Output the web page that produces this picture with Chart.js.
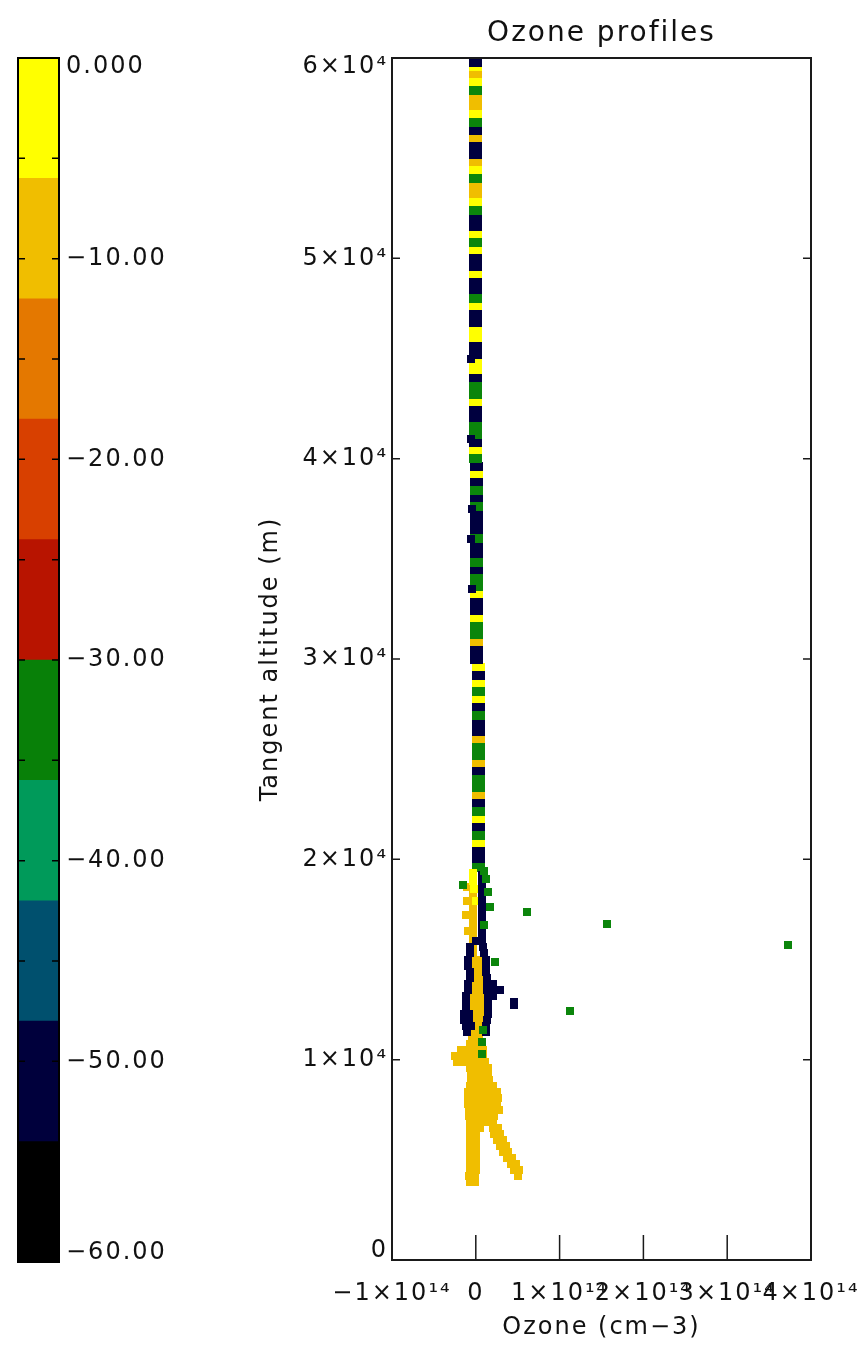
<!DOCTYPE html>
<html>
<head>
<meta charset="utf-8">
<title>Ozone profiles</title>
<script src="https://cdn.jsdelivr.net/npm/chart.js@4.4.1/dist/chart.umd.min.js"></script>
<style>
  body { margin: 0; background: #ffffff; }
  #wrap { position: relative; width: 866px; height: 1346px; }
  #cbar { position: absolute; left: 0; top: 0; }
  #ozone { position: absolute; left: 250px; top: 0; }
</style>
</head>
<body>
<div id="wrap">
  <canvas id="cbar" width="250" height="1346"></canvas>
  <canvas id="ozone" width="616" height="1346"></canvas>
</div>
<script>
(function () {

// -------------------------------------------------------------------------------------------------------
// data

// colour bar: band edges and band colours, bottom to top
var cbEdges = [-60, -54, -48, -42, -36, -30, -24, -18, -12, -6, 0];
var cbColors = ['#000000', '#00003c', '#00506e', '#009a5a', '#088008',
                '#b81400', '#d84000', '#e47800', '#f0be00', '#ffff00'];
var cbTickLabels = ['\u221260.00', '\u221250.00', '\u221240.00', '\u221230.00', '\u221220.00', '\u221210.00', '0.000'];

var xTickLabels = ['\u22121\u00d710\u00b9\u2074', '0', '1\u00d710\u00b9\u2074', '2\u00d710\u00b9\u2074', '3\u00d710\u00b9\u2074', '4\u00d710\u00b9\u2074'];
var yTickLabels = ['0', '1\u00d710\u2074', '2\u00d710\u2074', '3\u00d710\u2074', '4\u00d710\u2074', '5\u00d710\u2074', '6\u00d710\u2074'];

// points: [ozone in 1e14 cm-3, tangent altitude in m]
// upper profile (narrow column)
var colNavy = [[0,59800],[0,56400],[0,55600],[0,55200],[0,52000],[0,51600],[0,50000],[0,49600],[0,48800],[0,48400],
  [0,47200],[0,46800],[0,45600],[0,45200],[0,44000],[0,42400],[0,42000],[0,40800],
  [0.01,39600],[0.01,38800],[0.01,38000],[0.01,37200],[0.01,36800],[0.01,36400],[0.01,35600],[0.01,35200],
  [0.01,34400],[0.01,32800],[0.01,32400],[0.01,30400],[0.01,30000],
  [0.03,29200],[0.03,27600],[0.03,26800],[0.03,26400],[0.03,24400],[0.03,22800],[0.03,21600],[0.03,20400],[0.03,20000]];
var colYellow = [[0,59600],[0,58800],[0,57200],[0,54400],[0,52800],[0,51200],[0,50400],[0,49200],[0,47600],
  [0,46400],[0,46000],[0,44800],[0,44400],[0,42800],[0,40400],
  [0.01,39200],[0.01,33200],[0.01,32000],[0.03,29600],[0.03,28800],[0.03,28000],[0.03,22000],[0.03,20800]];
var colGold = [[0,59200],[0,58000],[0,57600],[0,56000],[0,54800],[0,53600],[0,53200],
  [0.01,30800],[0.03,26000],[0.03,24800],[0.03,23200]];
var colGreen = [[0,58400],[0,56800],[0,54000],[0,52400],[0,50800],[0,48000],[0,43600],[0,43200],[0,41600],[0,41200],[0,40000],
  [0.01,38400],[0.01,37600],[0.01,36000],[0.01,34800],[0.01,34000],[0.01,33600],[0.01,31600],[0.01,31200],
  [0.03,28400],[0.03,27200],[0.03,25600],[0.03,25200],[0.03,24000],[0.03,23600],[0.03,22400],[0.03,21200],[0.03,19600]];

// lower profile and scattered points
var lowGold = [
  [-0.03,19200],[-0.03,18900],[-0.03,18600],[-0.03,18300],[-0.03,18000],[-0.03,17700],[-0.03,17400],
  [-0.03,17100],[-0.03,16800],[-0.03,16500],[-0.03,16200],[-0.03,15900],[-0.03,15600],[-0.03,15300],
  [-0.1,18600],[-0.1,17900],[-0.12,17200],[-0.09,16400],
  [-0.02,15000],[0.05,15000],[-0.02,14700],[0.05,14700],[-0.02,14400],[0.05,14400],[-0.02,14100],[0.05,14100],
  [-0.02,13800],[0.05,13800],[-0.02,13500],[0.05,13500],[-0.02,13200],[0.05,13200],[-0.02,12900],[0.05,12900],
  [-0.02,12600],[0.05,12600],[-0.02,12300],[0.05,12300],[-0.02,12000],[0.05,12000],[-0.02,11700],[0.05,11700],
  [-0.02,11400],[0.05,11400],
  [-0.04,11100],[0.04,11100],
  [-0.07,10800],[0,10800],[0.07,10800],
  [-0.18,10500],[-0.11,10500],[-0.04,10500],[0.03,10500],[0.08,10500],
  [-0.25,10200],[-0.18,10200],[-0.11,10200],[-0.04,10200],[0.03,10200],[0.08,10200],
  [-0.22,9900],[-0.15,9900],[-0.07,9900],[0,9900],[0.07,9900],[0.11,9900],
  [-0.07,9600],[0,9600],[0.07,9600],[0.14,9600],
  [-0.06,9300],[0.01,9300],[0.08,9300],[0.15,9300],
  [-0.06,9000],[0.01,9000],[0.08,9000],[0.16,9000],
  [-0.07,8700],[0,8700],[0.07,8700],[0.14,8700],[0.21,8700],
  [-0.09,8400],[-0.02,8400],[0.05,8400],[0.12,8400],[0.19,8400],[0.25,8400],
  [-0.09,8100],[-0.02,8100],[0.05,8100],[0.12,8100],[0.19,8100],[0.26,8100],
  [-0.09,7800],[-0.02,7800],[0.05,7800],[0.12,7800],[0.19,7800],[0.25,7800],
  [-0.08,7500],[-0.01,7500],[0.06,7500],[0.13,7500],[0.2,7500],[0.28,7500],
  [-0.08,7200],[-0.01,7200],[0.06,7200],[0.13,7200],[0.22,7200],
  [-0.07,6900],[0,6900],[0.07,6900],[0.14,6900],[0.2,6900],
  [-0.07,6600],[0,6600],[0.05,6600],[0.2,6600],[0.27,6600],
  [-0.07,6300],[0,6300],[0.22,6300],[0.29,6300],
  [-0.07,6000],[0,6000],[0.25,6000],[0.32,6000],
  [-0.07,5700],[0,5700],[0.29,5700],[0.36,5700],
  [-0.07,5400],[0,5400],[0.33,5400],[0.39,5400],
  [-0.07,5100],[0,5100],[0.37,5100],[0.43,5100],
  [-0.07,4800],[0,4800],[0.42,4800],[0.48,4800],
  [-0.07,4500],[0,4500],[0.46,4500],[0.52,4500],
  [-0.08,4200],[-0.01,4200],[0.5,4200],
  [-0.07,3900],[-0.01,3900]];
var lowYellow = [[-0.03,19300],[-0.03,18900],[-0.02,18500],[0.0,17900]];
var lowNavy = [
  [-0.06,45000],[-0.06,41000],[-0.05,37500],[-0.06,36000],[-0.05,33500],
  [0.07,19200],[0.07,18900],[0.07,18600],[0.07,18300],[0.07,18000],[0.07,17700],[0.07,17400],
  [0.07,17100],[0.07,16800],[0.07,16500],[0.07,16200],
  [0.0,15900],[0.07,15900],[-0.07,15600],[0.08,15600],[-0.07,15300],[0.1,15300],
  [-0.09,15000],[0.12,15000],[-0.09,14700],[0.12,14700],[-0.07,14400],[0.12,14400],[-0.07,14100],[0.13,14100],
  [-0.09,13800],[0.13,13800],[0.2,13800],
  [-0.09,13500],[0.13,13500],[0.22,13500],[0.29,13500],
  [-0.12,13200],[0.14,13200],[0.2,13200],
  [-0.12,12900],[0.14,12900],[0.45,12900],[0.45,12750],
  [-0.12,12600],[0.14,12600],
  [-0.14,12300],[-0.08,12300],[0.14,12300],
  [-0.14,12000],[-0.08,12000],[0.13,12000],
  [-0.12,11700],[-0.06,11700],[0.12,11700],
  [-0.1,11400],[0.12,11400]];
var lowGreen = [
  [0.1,19400],[0.12,19000],[0.14,18350],[0.17,17600],[0.1,16700],
  [-0.155,18700],[0.61,17350],[1.57,16750],[3.72,15700],[0.23,14900],[1.12,12450],
  [0.08,11500],[0.07,10900],[0.07,10300]];

var navyColor = '#00003f';
var greenColor = '#0b850b';
var goldColor = '#f0be00';
var yellowColor = '#ffff00';

var FONT = 'DejaVu Sans';
var INK = '#111111';

// -------------------------------------------------------------------------------------------------------

function pts(arr) {
    return arr.map(function (p) { return { x: p[0] * 1e14, y: p[1] }; });
}

// small filled block used as point style
function swatch(color, w, h) {
    var c = document.createElement('canvas');
    c.width = w; c.height = h;
    var g = c.getContext('2d');
    g.fillStyle = color;
    g.fillRect(0, 0, w, h);
    return c;
}

function ds(label, arr, color, w, h) {
    return {
        label: label,
        data: pts(arr),
        pointStyle: swatch(color, w, h),
        pointRadius: 4,
        borderWidth: 0,
        showLine: false
    };
}

// box round the plot area plus inward ticks
var framePlugin = {
    id: 'frame',
    afterDatasetsDraw: function (chart, args, o) {
        var a = chart.chartArea, ctx = chart.ctx;
        ctx.save();
        ctx.strokeStyle = o.color;
        ctx.lineWidth = 1.5;
        ctx.beginPath();
        var ys = chart.scales.y;
        ys.ticks.forEach(function (t) {
            var py = ys.getPixelForValue(t.value);
            ctx.moveTo(a.left, py); ctx.lineTo(a.left + o.yTick, py);
            ctx.moveTo(a.right, py); ctx.lineTo(a.right - o.yTick, py);
        });
        if (o.xTick) {
            var xs = chart.scales.x;
            xs.ticks.forEach(function (t) {
                var px = xs.getPixelForValue(t.value);
                ctx.moveTo(px, a.bottom); ctx.lineTo(px, a.bottom - o.xTick);
            });
        }
        ctx.stroke();
        ctx.lineWidth = o.width;
        ctx.strokeRect(a.left, a.top, a.right - a.left, a.bottom - a.top);
        ctx.restore();
    }
};

// wide lettering, closer to the original plot font
var spacingPlugin = {
    id: 'spacing',
    beforeUpdate: function (chart) { chart.ctx.letterSpacing = '2px'; },
    beforeDraw: function (chart) { chart.ctx.letterSpacing = '2px'; }
};

// end labels sit inside the axis range
function endShift(label, index, last) {
    if (index === last) return ['', label];
    if (index === 0) return [label, ''];
    return label;
}
function endFont(last) {
    return function (c) {
        var end = (c.index === 0 || c.index === last);
        return { family: FONT, size: 24, lineHeight: end ? '18px' : 1.2 };
    };
}

// -------------------------------------------------------------------------------------------------------
// colour bar

try {
    var cbSets = cbColors.map(function (col, i) {
        return {
            data: [[cbEdges[i], cbEdges[i + 1]]],
            backgroundColor: col,
            borderWidth: 0,
            barPercentage: 1,
            categoryPercentage: 1,
            grouped: false
        };
    });

    new Chart(document.getElementById('cbar').getContext('2d'), {
        type: 'bar',
        data: { labels: ['t'], datasets: cbSets },
        options: {
            responsive: false,
            animation: false,
            events: [],
            layout: { padding: { left: 18, top: 58, bottom: 84, right: 0 } },
            plugins: {
                legend: { display: false },
                tooltip: { enabled: false },
                frame: { color: '#000000', width: 2, yTick: 7, xTick: 0 }
            },
            scales: {
                x: { display: false },
                y: {
                    position: 'right',
                    min: -60, max: 0,
                    grid: { display: false, drawTicks: false },
                    border: { display: false },
                    afterFit: function (s) { s.width = 191; },
                    ticks: {
                        stepSize: 5,
                        padding: 7,
                        color: INK,
                        font: endFont(12),
                        callback: function (v, i) {
                            if (v % 10 !== 0) return '';
                            return endShift(cbTickLabels[(v + 60) / 10], i, 12);
                        }
                    }
                }
            }
        },
        plugins: [framePlugin, spacingPlugin]
    });
} catch (e) {
    console.log('Error in colour bar: ' + e);
}

// -------------------------------------------------------------------------------------------------------
// ozone profiles

try {
    new Chart(document.getElementById('ozone').getContext('2d'), {
        type: 'scatter',
        data: {
            datasets: [
                ds('green', lowGreen, greenColor, 8, 8),
                ds('navy', lowNavy, navyColor, 8, 8),
                ds('yellow', lowYellow, yellowColor, 8, 8),
                ds('gold', lowGold, goldColor, 8, 8),
                ds('col green', colGreen, greenColor, 13, 9),
                ds('col navy', colNavy, navyColor, 13, 9),
                ds('col yellow', colYellow, yellowColor, 13, 9),
                ds('col gold', colGold, goldColor, 13, 9)
            ]
        },
        options: {
            responsive: false,
            animation: false,
            events: [],
            layout: { padding: { left: 0, top: 0, bottom: 0, right: 55 } },
            plugins: {
                legend: { display: false },
                tooltip: { enabled: false },
                title: {
                    display: true,
                    text: 'Ozone profiles',
                    fullSize: false,
                    color: INK,
                    font: { family: FONT, size: 28, weight: 'normal' },
                    padding: { top: 17, bottom: 7.4 }
                },
                frame: { color: '#1a1a1a', width: 2, yTick: 8, xTick: 25 }
            },
            scales: {
                x: {
                    type: 'linear',
                    min: -1e14, max: 4e14,
                    grid: { display: false, drawTicks: false },
                    border: { display: false },
                    afterFit: function (s) { s.height = 86; },
                    ticks: {
                        stepSize: 1e14,
                        autoSkip: false,
                        maxRotation: 0,
                        padding: 3,
                        color: INK,
                        // tall line box pushes the labels down without widening the side padding
                        font: { family: FONT, size: 24, lineHeight: '62px' },
                        callback: function (v, i) { return xTickLabels[i]; }
                    },
                    title: {
                        display: true,
                        text: 'Ozone (cm\u22123)',
                        color: INK,
                        font: { family: FONT, size: 24 },
                        padding: { top: 0, bottom: 4 }
                    }
                },
                y: {
                    type: 'linear',
                    min: 0, max: 60000,
                    grid: { display: false, drawTicks: false },
                    border: { display: false },
                    afterFit: function (s) { s.width = 142; },
                    ticks: {
                        stepSize: 10000,
                        padding: 4,
                        color: INK,
                        font: endFont(6),
                        callback: function (v, i) { return endShift(yTickLabels[i], i, 6); }
                    },
                    title: {
                        display: true,
                        text: 'Tangent altitude (m)',
                        color: INK,
                        font: { family: FONT, size: 24 },
                        padding: { top: 6, bottom: 0 }
                    }
                }
            }
        },
        plugins: [framePlugin, spacingPlugin]
    });
} catch (e) {
    console.log('Error in ozone chart: ' + e);
}

})();
</script>
</body>
</html>
